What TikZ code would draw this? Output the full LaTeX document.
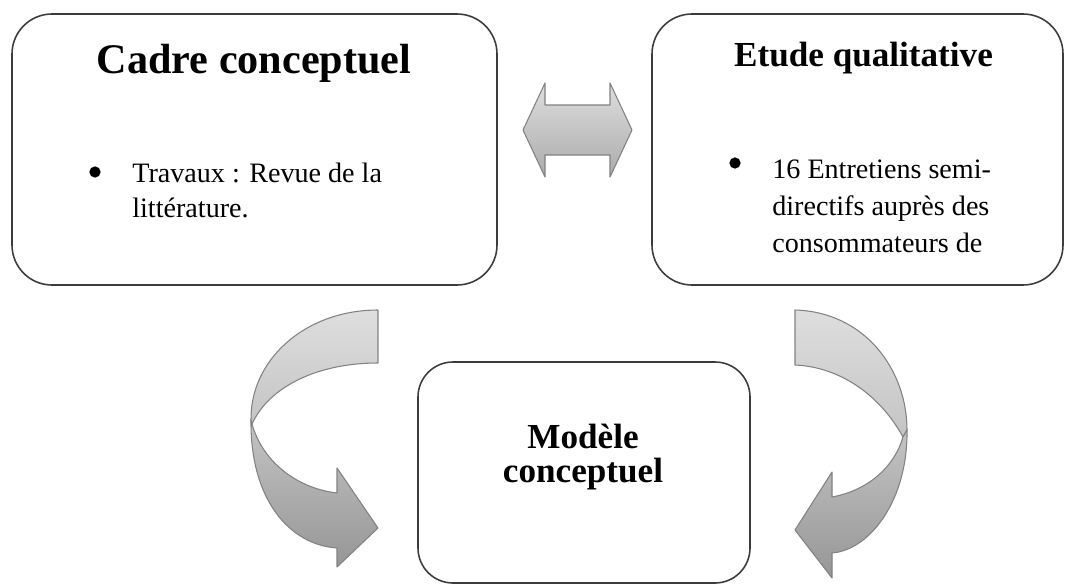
\documentclass[tikz,border=0pt]{standalone}
\usepackage{fontspec}
\setmainfont{Liberation Serif}
\usetikzlibrary{calc, positioning}

\begin{document}
\begin{tikzpicture}
        % 定义颜色
        \definecolor{boxLine}{RGB}{60,60,60}
        \definecolor{arrowLine}{RGB}{130,130,130}
        \definecolor{arrowTop}{RGB}{222,222,222}
        \definecolor{arrowMid}{RGB}{196,196,196}
        \definecolor{arrowLow}{RGB}{150,150,150}
        \tikzset{
            cadrebox/.style={draw=boxLine, line width=0.9pt, rounded corners=0.8cm, fill=white},
            titre/.style={anchor=base, font=\bfseries\fontsize{20}{24}\selectfont},
            puce/.style={anchor=base west, font=\fontsize{16}{20}\selectfont, inner sep=0pt},
            fleche/.style={draw=arrowLine, line width=0.6pt, line join=round}
        }
        \useasboundingbox (0,0) rectangle (21.34,11.68);
        \clip (0,0) rectangle (21.34,11.68);

        % 三个方框
        \node[cadrebox, minimum width=9.7cm, minimum height=5.42cm] (cadre) at (5.09,8.69) {};
        \node[cadrebox, minimum width=8.22cm, minimum height=5.42cm] (etude) at (17.15,8.69) {};
        \node[cadrebox, minimum width=6.64cm, minimum height=4.42cm, rounded corners=0.7cm] (modele) at (11.68,2.23) {};

        % 标题
        \node[titre, font=\bfseries\fontsize{24}{28}\selectfont] (tcadre) at (5.08,10.22) {Cadre conceptuel};
        \node[titre] (tetude) at (17.27,10.34) {Etude qualitative};
        \node[titre] (tmod1) at (11.66,2.72) {Modèle};
        \node[titre] (tmod2) at (11.66,2.04) {conceptuel};

        % 左侧列表
        \fill (1.9,8.24) circle (3.2pt);
        \node[puce] (trav1) at (2.64,8.04) {Travaux : Revue de la};
        \node[puce] (trav2) at (2.64,7.34) {littérature.};

        % 右侧列表
        \fill (14.7,8.42) circle (3.2pt);
        \node[puce] (ent1) at (15.44,8.12) {16 Entretiens semi-};
        \node[puce] (ent2) at (15.44,7.38) {directifs auprès des};
        \node[puce] (ent3) at (15.44,6.64) {consommateurs de};

        % 双向箭头
        \path[fleche, top color=arrowTop, bottom color=arrowLow!80]
            (10.46,9.08) -- (10.9,10.02) -- (10.9,9.58) -- (12.2,9.58) -- (12.2,10.02)
            -- (12.64,9.08) -- (12.2,8.14) -- (12.2,8.58) -- (10.9,8.58) -- (10.9,8.14) -- cycle;

        % 左侧弯箭头
        \path[fleche, top color=arrowTop, bottom color=arrowMid]
            (7.56,5.48) .. controls (6.1,5.48) and (5.0,4.48) .. (5.02,3.28)
            -- (5.04,3.2) .. controls (5.4,3.98) and (6.4,4.42) .. (7.56,4.42) -- cycle;
        \path[fleche, top color=arrowMid, bottom color=arrowLow]
            (5.02,3.28) .. controls (5.0,1.68) and (5.8,0.78) .. (6.74,0.72)
            -- (6.74,0.34) -- (7.56,1.12) -- (6.74,2.32) -- (6.74,1.82)
            .. controls (5.9,1.92) and (5.24,2.48) .. (5.04,3.2) -- cycle;

        % 右侧弯箭头
        \path[fleche, top color=arrowTop, bottom color=arrowMid]
            (15.9,5.48) .. controls (17.3,5.44) and (18.14,4.28) .. (18.14,3.08)
            -- (18.06,2.94) .. controls (17.6,3.78) and (16.8,4.34) .. (15.9,4.38) -- cycle;
        \path[fleche, top color=arrowMid, bottom color=arrowLow]
            (18.14,3.08) .. controls (18.16,1.68) and (17.4,0.68) .. (16.64,0.62)
            -- (16.64,0.12) -- (15.9,1.08) -- (16.64,2.24) -- (16.64,1.74)
            .. controls (17.4,1.88) and (17.9,2.38) .. (18.06,2.94) -- cycle;
    \end{tikzpicture}
\end{document}
